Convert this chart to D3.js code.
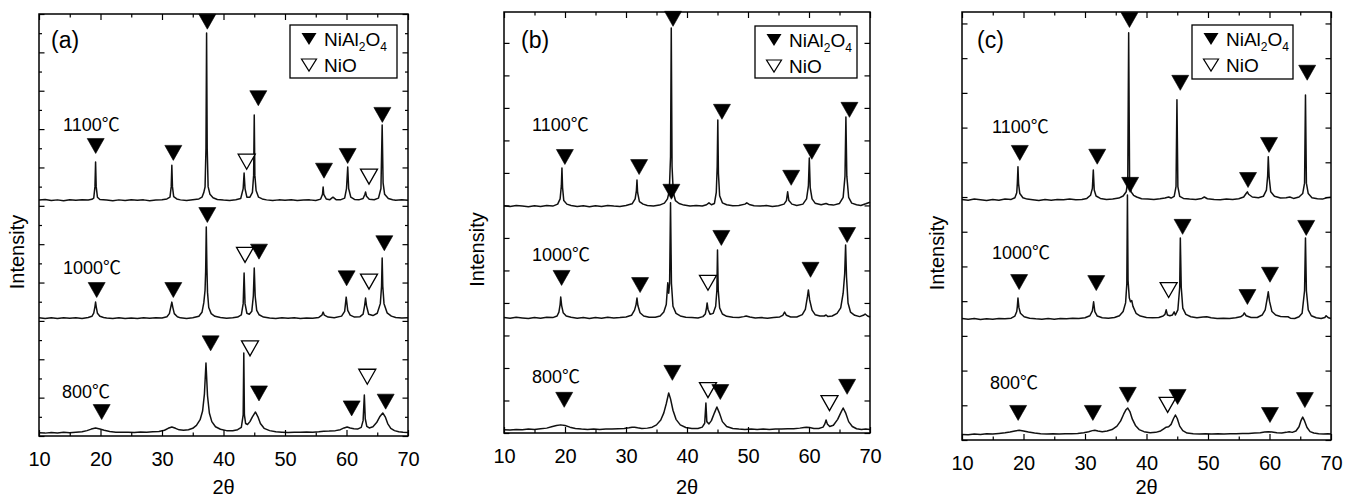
<!DOCTYPE html>
<html><head><meta charset="utf-8">
<script src="https://cdn.jsdelivr.net/npm/d3@7"></script>
<style>
html,body{margin:0;padding:0;background:#fff;}
svg{display:block;}
text{font-family:"Liberation Sans",Arial,"Noto Sans CJK SC",sans-serif;fill:#000;}
</style></head><body>
<svg id="chart" width="1358" height="498"></svg>
<script>
// ---------- data ----------
const xTicksMajor = [10,20,30,40,50,60,70];
const xTicksMinor = [15,25,35,45,55,65];
const tempLabels = ["1100℃","1000℃","800℃"];
const panelTags = ["(a)","(b)","(c)"];
const xLabel = "2θ";
const yLabel = "Intensity";
const yDomainA = [0,22];
const yDomainB = [0,12.95];
const yDomainC = [0,12.33];
const yTicksA = [0,1,2,3,4,5,6,7,8,9,10,11,12,13,14,15,16,17,18,19,20,21,22];
const yTicksB = [0,1,2,3,4,5,6,7,8,9,10,11,12];
const yTicksC = [0,1,2,3,4,5,6,7,8,9,10,11,12];

// panel (a) patterns [2theta, intensity]
const a1100 = [[10,12.30],[11,12.33],[12,12.28],[13,12.31],[14,12.27],[15,12.32],[16,12.29],[17,12.31],[18,12.30],[18.6,12.34],[18.9,12.40],[19.1,13.0],[19.2,14.28],[19.3,13.0],[19.5,12.45],[19.9,12.33],[21,12.30],[22,12.27],[23,12.31],[24,12.28],[25,12.32],[26,12.29],[27,12.31],[28,12.27],[29,12.30],[30,12.32],[30.8,12.36],[31.3,12.45],[31.5,13.0],[31.6,14.12],[31.7,13.0],[31.9,12.48],[32.4,12.36],[33,12.31],[34,12.28],[35,12.32],[36,12.36],[36.5,12.45],[36.8,12.7],[37.0,12.98],[37.15,15.0],[37.25,21.01],[37.35,15.0],[37.5,13.0],[37.8,12.6],[38.3,12.42],[39,12.33],[40,12.30],[41,12.28],[42,12.32],[42.8,12.38],[43.2,12.9],[43.35,13.71],[43.5,12.9],[43.8,12.45],[44.3,12.45],[44.7,12.7],[44.9,13.6],[45.0,16.73],[45.1,13.6],[45.3,12.8],[45.7,12.45],[46.3,12.36],[47,12.31],[48,12.28],[49,12.31],[50,12.29],[51,12.32],[52,12.28],[53,12.30],[54,12.31],[55,12.28],[55.8,12.35],[56.1,12.6],[56.2,12.98],[56.3,12.6],[56.7,12.36],[57.3,12.32],[57.8,12.45],[58.3,12.32],[59,12.31],[59.7,12.4],[60.0,12.9],[60.2,14.02],[60.35,12.9],[60.7,12.45],[61.3,12.33],[62,12.31],[62.7,12.38],[63.0,12.6],[63.1,12.72],[63.25,12.5],[63.7,12.34],[64.5,12.32],[65.2,12.4],[65.6,12.9],[65.8,16.21],[65.95,13.2],[66.2,12.6],[66.8,12.38],[67.5,12.32],[68,12.29],[69,12.31],[70,12.29]];
const a1000 = [[10,6.17],[11,6.13],[12,6.16],[13,6.12],[14,6.17],[15,6.14],[16,6.16],[17,6.13],[18,6.18],[18.6,6.24],[18.9,6.4],[19.1,6.75],[19.2,6.98],[19.3,6.75],[19.5,6.4],[19.9,6.24],[20.5,6.18],[21,6.15],[22,6.12],[23,6.16],[24,6.13],[25,6.15],[26,6.12],[27,6.16],[28,6.14],[29,6.17],[30,6.15],[30.8,6.22],[31.2,6.38],[31.45,6.75],[31.6,6.98],[31.75,6.72],[32.0,6.38],[32.5,6.22],[33,6.16],[34,6.13],[35,6.16],[36,6.24],[36.5,6.45],[36.8,6.95],[37.0,7.6],[37.1,8.6],[37.2,10.89],[37.3,8.8],[37.4,7.5],[37.6,6.7],[38.0,6.38],[38.6,6.24],[39.5,6.18],[40.5,6.14],[41.5,6.16],[42.3,6.2],[42.9,6.32],[43.2,6.9],[43.35,8.5],[43.5,6.9],[43.8,6.4],[44.2,6.35],[44.6,6.5],[44.85,7.3],[45.0,8.76],[45.15,7.3],[45.4,6.55],[45.8,6.32],[46.5,6.2],[47.5,6.15],[48.5,6.13],[49.5,6.16],[50.5,6.14],[51.5,6.17],[52.5,6.13],[53.5,6.15],[54.5,6.14],[55.5,6.18],[56.0,6.3],[56.2,6.46],[56.4,6.3],[57,6.2],[58,6.17],[59.2,6.25],[59.7,6.5],[59.95,7.24],[60.2,6.55],[60.6,6.3],[61.3,6.2],[62.2,6.22],[62.7,6.35],[62.95,6.8],[63.1,7.19],[63.25,6.8],[63.6,6.35],[64.3,6.28],[65.0,6.4],[65.5,6.9],[65.7,7.8],[65.8,9.28],[65.9,7.8],[66.1,6.9],[66.6,6.42],[67.3,6.25],[68,6.18],[69,6.15],[70,6.17]];
const a800 = [[10,0.17],[11,0.15],[12,0.18],[13,0.16],[14,0.19],[15,0.17],[16,0.2],[17,0.22],[17.8,0.28],[18.5,0.36],[19.2,0.42],[19.9,0.36],[20.6,0.3],[21.5,0.24],[22.5,0.2],[23.5,0.19],[24.5,0.2],[25.5,0.18],[26.5,0.21],[27.5,0.19],[28.5,0.22],[29.5,0.24],[30.4,0.3],[31.0,0.4],[31.6,0.47],[32.2,0.4],[32.8,0.32],[33.5,0.3],[34.3,0.33],[35.0,0.4],[35.6,0.55],[36.2,0.85],[36.6,1.3],[36.9,2.2],[37.15,3.81],[37.4,2.1],[37.7,1.2],[38.1,0.75],[38.7,0.48],[39.5,0.35],[40.5,0.28],[41.5,0.27],[42.3,0.33],[42.9,0.45],[43.2,1.1],[43.3,4.33],[43.4,1.1],[43.6,0.65],[43.9,0.6],[44.3,0.75],[44.7,1.0],[45.2,1.25],[45.6,1.0],[46.0,0.65],[46.6,0.4],[47.5,0.28],[48.5,0.22],[49.5,0.2],[50.5,0.18],[51.5,0.2],[52.5,0.19],[53.5,0.21],[54.5,0.2],[55.5,0.22],[56.3,0.25],[57.2,0.26],[58.2,0.28],[59.0,0.33],[59.6,0.42],[60.1,0.47],[60.6,0.42],[61.2,0.38],[61.8,0.36],[62.4,0.45],[62.7,0.8],[62.9,2.14],[63.05,0.9],[63.3,0.5],[63.7,0.42],[64.3,0.48],[64.9,0.7],[65.4,1.0],[65.9,1.2],[66.3,1.0],[66.7,0.65],[67.2,0.4],[67.8,0.28],[68.5,0.22],[69.2,0.19],[70,0.18]];

// panel (b)
const b1100 = [[10,6.99],[11,6.97],[12,7.0],[13,6.98],[14,6.96],[15,6.99],[16,6.97],[17,7.0],[18,6.98],[18.8,7.04],[19.2,7.2],[19.4,7.6],[19.5,8.15],[19.6,7.55],[19.8,7.15],[20.3,7.04],[21,7.0],[22,6.97],[23,6.99],[24,6.96],[25,6.99],[26,6.97],[27,7.0],[28,6.98],[29,6.97],[30,7.0],[31,7.05],[31.5,7.2],[31.7,7.45],[31.8,7.78],[31.9,7.4],[32.2,7.12],[32.8,7.04],[33.5,7.0],[34.5,6.98],[35.5,7.01],[36.3,7.07],[36.8,7.2],[37.1,7.45],[37.3,8.5],[37.42,12.46],[37.55,8.2],[37.75,7.4],[38.1,7.15],[38.7,7.06],[39.5,7.01],[40.5,6.98],[41.5,7.0],[42.5,6.98],[43.2,7.02],[43.6,7.08],[44.0,7.02],[44.5,7.06],[44.8,7.4],[44.95,8.2],[45.05,9.63],[45.15,8.0],[45.35,7.3],[45.8,7.08],[46.5,7.02],[47.5,6.99],[48.5,7.0],[49.5,7.04],[49.8,7.08],[50.2,7.03],[51,6.99],[52,6.98],[53,7.0],[54,6.97],[55,6.99],[55.9,7.04],[56.3,7.15],[56.5,7.42],[56.7,7.15],[57.2,7.04],[58,7.0],[59,7.04],[59.6,7.2],[59.9,7.6],[60.05,8.46],[60.2,7.55],[60.5,7.2],[61,7.07],[62,7.02],[62.8,7.06],[63.2,7.03],[64,7.01],[65,7.06],[65.6,7.25],[65.9,7.9],[66.05,9.72],[66.2,7.9],[66.5,7.25],[67,7.07],[67.8,7.02],[68.5,7.0],[69.3,7.05],[70,7.1]];
const b1000 = [[10,3.55],[11,3.53],[12,3.56],[13,3.54],[14,3.52],[15,3.55],[16,3.53],[17,3.56],[18,3.55],[18.7,3.6],[19.0,3.72],[19.2,3.95],[19.3,4.18],[19.45,3.92],[19.7,3.7],[20.2,3.6],[21,3.56],[22,3.53],[23,3.55],[24,3.52],[25,3.55],[26,3.53],[27,3.56],[28,3.54],[29,3.55],[30,3.57],[30.9,3.62],[31.4,3.78],[31.65,3.95],[31.8,4.15],[31.95,3.92],[32.3,3.7],[32.9,3.6],[33.8,3.56],[34.8,3.56],[35.6,3.6],[36.2,3.72],[36.6,3.95],[36.85,4.62],[37.0,4.3],[37.15,4.6],[37.3,7.08],[37.45,4.6],[37.7,3.9],[38.2,3.68],[38.9,3.6],[39.8,3.56],[40.8,3.55],[41.8,3.54],[42.6,3.58],[43.0,3.66],[43.2,3.85],[43.3,4.0],[43.45,3.8],[43.8,3.65],[44.3,3.68],[44.7,3.9],[44.9,4.4],[45.0,5.63],[45.12,4.4],[45.35,3.85],[45.8,3.66],[46.5,3.59],[47.5,3.56],[48.5,3.55],[49.3,3.58],[49.7,3.6],[50.3,3.57],[51.2,3.54],[52.2,3.55],[53.2,3.53],[54.2,3.55],[55.2,3.57],[55.7,3.62],[56.0,3.72],[56.3,3.62],[57,3.57],[58,3.57],[58.9,3.64],[59.4,3.8],[59.75,4.2],[59.9,4.4],[60.1,4.1],[60.5,3.78],[61,3.64],[61.8,3.6],[62.5,3.6],[62.8,3.63],[63.1,3.58],[63.8,3.6],[64.6,3.68],[65.2,3.85],[65.6,4.3],[65.85,4.9],[66.0,5.78],[66.15,4.8],[66.4,4.0],[66.8,3.72],[67.5,3.62],[68.3,3.58],[68.9,3.62],[69.2,3.66],[69.6,3.6],[70,3.57]];
const b800 = [[10,0.1],[11,0.09],[12,0.11],[13,0.1],[14,0.12],[15,0.11],[16,0.13],[17,0.15],[17.8,0.19],[18.6,0.23],[19.3,0.25],[20.0,0.23],[20.8,0.18],[21.7,0.14],[22.7,0.12],[23.7,0.11],[24.7,0.12],[25.7,0.11],[26.7,0.12],[27.7,0.12],[28.7,0.13],[29.7,0.14],[30.5,0.16],[31.0,0.18],[31.4,0.18],[31.9,0.16],[32.6,0.14],[33.5,0.15],[34.3,0.18],[35.0,0.25],[35.7,0.4],[36.2,0.62],[36.6,0.9],[37.0,1.23],[37.3,1.05],[37.7,0.7],[38.2,0.42],[38.9,0.25],[39.8,0.17],[40.8,0.14],[41.8,0.14],[42.5,0.18],[42.9,0.3],[43.1,0.92],[43.25,0.35],[43.6,0.28],[44.0,0.38],[44.5,0.62],[44.9,0.8],[45.3,0.62],[45.8,0.35],[46.5,0.2],[47.5,0.14],[48.5,0.12],[49.5,0.11],[50.5,0.12],[51.5,0.11],[52.5,0.12],[53.5,0.11],[54.5,0.12],[55.5,0.12],[56.5,0.13],[57.5,0.13],[58.5,0.15],[59.2,0.17],[59.6,0.18],[60.1,0.17],[60.8,0.14],[61.6,0.14],[62.3,0.18],[62.6,0.28],[62.8,0.4],[63.0,0.28],[63.4,0.2],[64.0,0.24],[64.7,0.42],[65.2,0.62],[65.6,0.77],[66.0,0.62],[66.5,0.35],[67.1,0.2],[67.8,0.13],[68.6,0.11],[69.3,0.12],[70,0.11]];

// panel (c)
const c1100 = [[10,6.93],[11,6.91],[12,6.94],[13,6.92],[14,6.9],[15,6.93],[16,6.91],[17,6.94],[18,6.93],[18.6,6.98],[18.9,7.12],[19.0,7.4],[19.1,7.87],[19.2,7.38],[19.4,7.1],[19.9,6.98],[20.6,6.94],[21.5,6.92],[22.5,6.9],[23.5,6.93],[24.5,6.91],[25.5,6.93],[26.5,6.92],[27.5,6.94],[28.5,6.92],[29.5,6.93],[30.3,6.96],[30.9,7.05],[31.2,7.25],[31.35,7.78],[31.5,7.2],[31.8,7.03],[32.5,6.96],[33.5,6.93],[34.5,6.94],[35.5,6.97],[36.2,7.03],[36.7,7.15],[36.95,7.45],[37.1,11.73],[37.25,7.45],[37.5,7.15],[37.9,7.05],[38.4,7.0],[39.2,6.95],[40.2,6.94],[41.2,6.93],[42.2,6.95],[43.0,6.97],[43.6,7.0],[44.0,6.97],[44.5,7.02],[44.8,7.3],[44.95,9.8],[45.1,7.3],[45.4,7.02],[46,6.96],[47,6.94],[48,6.93],[49,6.96],[49.4,7.0],[49.9,6.95],[51,6.93],[52,6.92],[53,6.94],[54,6.93],[55,6.95],[55.8,7.0],[56.2,7.1],[56.4,7.15],[56.6,7.08],[57.2,7.0],[58.2,6.98],[59.0,7.02],[59.5,7.2],[59.7,7.6],[59.8,8.16],[59.95,7.55],[60.2,7.15],[60.8,7.02],[61.8,6.97],[62.7,6.98],[63.3,7.0],[63.9,6.96],[64.8,7.0],[65.4,7.1],[65.7,7.4],[65.85,9.94],[66.0,7.4],[66.3,7.1],[66.9,6.98],[67.8,6.95],[68.6,6.94],[69.3,6.98],[70,6.99]];
const c1000 = [[10,3.5],[11,3.48],[12,3.5],[13,3.47],[14,3.49],[15,3.48],[16,3.5],[17,3.49],[18,3.51],[18.6,3.57],[18.9,3.7],[19.0,3.85],[19.1,4.09],[19.25,3.82],[19.5,3.65],[20.1,3.55],[21,3.51],[22,3.49],[23,3.48],[24,3.5],[25,3.48],[26,3.5],[27,3.49],[28,3.51],[29,3.5],[30,3.52],[30.8,3.58],[31.2,3.72],[31.4,3.98],[31.6,3.7],[32,3.57],[32.8,3.52],[33.8,3.51],[34.8,3.53],[35.6,3.58],[36.2,3.7],[36.6,3.95],[36.8,4.5],[36.9,7.06],[37.0,4.6],[37.2,4.1],[37.4,3.98],[37.6,4.02],[37.8,3.85],[38.3,3.65],[39,3.57],[40,3.53],[41,3.52],[42,3.53],[42.7,3.57],[43.0,3.62],[43.2,3.75],[43.4,3.6],[43.8,3.58],[44.2,3.6],[44.5,3.69],[44.7,3.6],[45.1,3.75],[45.4,4.4],[45.5,5.82],[45.65,4.4],[45.9,3.8],[46.4,3.62],[47.2,3.55],[48.2,3.52],[49.2,3.54],[49.8,3.55],[50.5,3.52],[51.5,3.5],[52.5,3.51],[53.5,3.5],[54.5,3.52],[55.3,3.55],[55.7,3.6],[55.9,3.66],[56.2,3.58],[57,3.53],[58,3.53],[58.8,3.6],[59.3,3.75],[59.65,4.1],[59.8,4.27],[60.0,4.0],[60.4,3.7],[61.0,3.6],[61.8,3.56],[62.6,3.55],[63.0,3.55],[63.4,3.51],[64.1,3.5],[64.8,3.55],[65.3,3.65],[65.7,4.3],[65.85,5.82],[66.0,4.3],[66.3,3.75],[66.8,3.58],[67.6,3.52],[68.4,3.5],[69.0,3.53],[69.2,3.58],[69.6,3.52],[70,3.5]];
const c800 = [[10,0.16],[11,0.15],[12,0.17],[13,0.16],[14,0.18],[15,0.17],[16,0.19],[17,0.21],[17.8,0.23],[18.6,0.26],[19.3,0.28],[20.0,0.26],[20.8,0.23],[21.8,0.2],[22.8,0.18],[23.8,0.17],[24.8,0.18],[25.8,0.17],[26.8,0.18],[27.8,0.18],[28.8,0.19],[29.8,0.21],[30.6,0.24],[31.2,0.27],[31.6,0.28],[32.1,0.26],[32.8,0.24],[33.6,0.26],[34.4,0.3],[35.2,0.4],[35.8,0.55],[36.3,0.75],[36.7,0.88],[36.95,0.92],[37.3,0.82],[37.7,0.6],[38.2,0.42],[38.8,0.3],[39.6,0.24],[40.6,0.21],[41.5,0.22],[42.3,0.26],[42.8,0.32],[43.2,0.37],[43.6,0.38],[44.0,0.45],[44.4,0.62],[44.7,0.72],[45.0,0.62],[45.4,0.4],[45.9,0.27],[46.6,0.2],[47.6,0.18],[48.6,0.17],[49.6,0.18],[50.6,0.17],[51.6,0.18],[52.6,0.17],[53.6,0.18],[54.6,0.18],[55.6,0.19],[56.6,0.19],[57.6,0.2],[58.5,0.21],[59.2,0.23],[59.8,0.24],[60.4,0.23],[61.2,0.21],[62.0,0.2],[62.7,0.22],[63.2,0.24],[63.7,0.22],[64.3,0.26],[64.8,0.38],[65.1,0.55],[65.4,0.66],[65.7,0.55],[66.1,0.36],[66.6,0.24],[67.2,0.2],[68,0.18],[68.8,0.17],[69.5,0.18],[70,0.17]];

// peak markers: [2theta, intensity, phase] phase 0 = NiAl2O4 (filled), 1 = NiO (open)
const markersA = [[19.22,15.12,0],[31.84,14.76,0],[37.37,21.60,0],[43.77,14.30,1],[45.66,17.61,0],[56.34,13.83,0],[60.19,14.60,0],[63.66,13.52,1],[65.83,16.74,0],
  [19.38,7.61,0],[31.84,7.61,0],[37.37,11.52,0],[43.50,9.44,1],[45.77,9.61,0],[60.02,8.22,0],[63.66,8.05,1],[66.15,10.05,0],
  [20.19,1.25,0],[37.91,4.83,0],[44.31,4.57,1],[45.77,2.22,0],[60.84,1.44,0],[63.38,3.09,1],[66.37,1.79,0]];
const markersB = [[19.98,8.49,0],[32.15,8.18,0],[37.71,12.74,0],[45.73,9.88,0],[57.08,7.85,0],[60.46,8.65,0],[66.63,9.94,0],
  [19.44,4.77,0],[32.31,4.55,0],[37.44,7.42,0],[43.44,4.62,1],[45.63,6.0,0],[60.25,5.02,0],[66.25,6.09,0],
  [19.87,1.02,0],[37.6,1.85,0],[43.44,1.32,1],[45.46,1.26,0],[63.36,0.92,1],[66.25,1.42,0]];
const markersC = [[19.4,8.27,0],[31.99,8.16,0],[37.23,12.1,0],[45.49,10.29,0],[56.51,7.49,0],[59.92,8.50,0],[66.13,10.58,0],
  [19.29,4.55,0],[31.83,4.52,0],[37.34,7.35,0],[43.6,4.32,1],[45.87,6.14,0],[56.41,4.12,0],[60.08,4.76,0],[65.97,6.11,0],
  [19.13,0.78,0],[31.28,0.78,0],[36.96,1.30,0],[43.44,1.01,1],[45.06,1.24,0],[60.08,0.72,0],[65.75,1.15,0]];

// ---------- layout ----------
const panels = [
  {tag:panelTags[0], curves:[a1100,a1000,a800], markers:markersA, yDomain:yDomainA, yTicks:yTicksA, altMinor:true,
   x0:39, x1:408, y0:14, y1:436, legend:{x:290,y:25,w:107,h:53}, tagPos:[51,48], yLabX:17,
   temps:[[63,131],[63,274],[62,398]]},
  {tag:panelTags[1], curves:[b1100,b1000,b800], markers:markersB, yDomain:yDomainB, yTicks:yTicksB, altMinor:false,
   x0:504, x1:870, y0:12, y1:433, legend:{x:755,y:26,w:102,h:52}, tagPos:[521,48], yLabX:477,
   temps:[[532,131],[532,261],[532,383]]},
  {tag:panelTags[2], curves:[c1100,c1000,c800], markers:markersC, yDomain:yDomainC, yTicks:yTicksC, altMinor:false,
   x0:962, x1:1331, y0:12, y1:440, legend:{x:1192,y:25,w:101,h:54}, tagPos:[977,48], yLabX:937,
   temps:[[992,133],[992,259],[990,389]]}
];

const svg = d3.select("#chart");
const tri = (w,h) => `M${-w},${-h/2}L${w},${-h/2}L0,${h/2}Z`;

panels.forEach(p => {
  const x = d3.scaleLinear().domain([10,70]).range([p.x0,p.x1]);
  const y = d3.scaleLinear().domain(p.yDomain).range([p.y1,p.y0]);
  const g = svg.append("g");

  // curves
  const line = d3.line().x(d=>x(d[0])).y(d=>y(d[1]));
  p.curves.forEach(c => {
    g.append("path").datum(c).attr("d",line)
      .attr("fill","none").attr("stroke","#111").attr("stroke-width",1.5).attr("stroke-linejoin","round");
  });

  // markers
  g.selectAll("path.mk").data(p.markers).join("path").attr("class","mk")
    .attr("d", tri(8.5,15))
    .attr("transform", d=>`translate(${x(d[0])},${y(d[1])})`)
    .attr("fill", d=> d[2]===0 ? "#000" : "#fff")
    .attr("stroke","#000").attr("stroke-width", d=> d[2]===0 ? 0.6 : 1.3);

  // axes (ticks inward)
  const mkAxis = (gen, tr) => {
    const a = g.append("g").attr("transform",tr).call(gen);
    a.select(".domain").remove();
    a.selectAll("line").attr("stroke","#000").attr("stroke-width",1.2);
    return a;
  };
  const bottom = mkAxis(d3.axisBottom(x).tickValues(xTicksMajor).tickSize(-6).tickPadding(16).tickFormat(d3.format("d")), `translate(0,${p.y1})`);
  bottom.selectAll("text").attr("font-size",20).attr("font-family",'"Liberation Sans",Arial,sans-serif');
  mkAxis(d3.axisBottom(x).tickValues(xTicksMinor).tickSize(-3.5).tickFormat(""), `translate(0,${p.y1})`);
  mkAxis(d3.axisTop(x).tickValues(xTicksMajor).tickSize(-6).tickFormat(""), `translate(0,${p.y0})`);
  mkAxis(d3.axisTop(x).tickValues(xTicksMinor).tickSize(-3.5).tickFormat(""), `translate(0,${p.y0})`);
  const majY = p.altMinor ? p.yTicks.filter(v=>v%2===0) : p.yTicks;
  const minY = p.altMinor ? p.yTicks.filter(v=>v%2===1) : [];
  mkAxis(d3.axisLeft(y).tickValues(majY).tickSize(-5.5).tickFormat(""), `translate(${p.x0},0)`);
  mkAxis(d3.axisRight(y).tickValues(majY).tickSize(-5.5).tickFormat(""), `translate(${p.x1},0)`);
  if (minY.length) {
    mkAxis(d3.axisLeft(y).tickValues(minY).tickSize(-3).tickFormat(""), `translate(${p.x0},0)`);
    mkAxis(d3.axisRight(y).tickValues(minY).tickSize(-3).tickFormat(""), `translate(${p.x1},0)`);
  }

  // frame
  g.append("rect").attr("x",p.x0).attr("y",p.y0).attr("width",p.x1-p.x0).attr("height",p.y1-p.y0)
    .attr("fill","none").attr("stroke","#000").attr("stroke-width",1.5);

  // panel tag
  g.append("text").attr("x",p.tagPos[0]).attr("y",p.tagPos[1]).attr("font-size",23).text(p.tag);

  // temperature labels
  p.temps.forEach((t,i) => {
    g.append("text").attr("x",t[0]).attr("y",t[1]).attr("font-size",18).text(tempLabels[i]);
  });

  // legend
  const L = p.legend;
  const lg = g.append("g");
  lg.append("rect").attr("x",L.x).attr("y",L.y).attr("width",L.w).attr("height",L.h)
    .attr("fill","#fff").attr("stroke","#000").attr("stroke-width",1.3);
  lg.append("path").attr("d",tri(7.5,12)).attr("transform",`translate(${L.x+19},${L.y+14})`).attr("fill","#000");
  lg.append("path").attr("d",tri(7.5,12)).attr("transform",`translate(${L.x+19},${L.y+40})`)
    .attr("fill","#fff").attr("stroke","#000").attr("stroke-width",1.2);
  const t1 = lg.append("text").attr("x",L.x+34).attr("y",L.y+21).attr("font-size",19);
  t1.append("tspan").text("NiAl");
  t1.append("tspan").attr("font-size",12).attr("dy",5).text("2");
  t1.append("tspan").attr("dy",-5).text("O");
  t1.append("tspan").attr("font-size",12).attr("dy",5).text("4");
  lg.append("text").attr("x",L.x+34).attr("y",L.y+47).attr("font-size",19).text("NiO");

  // axis titles
  g.append("text").attr("x",(p.x0+p.x1)/2).attr("y",494).attr("text-anchor","middle").attr("font-size",20).text(xLabel);
  g.append("text").attr("transform",`translate(${p.yLabX+7},${(p.y0+p.y1)/2+27}) rotate(-90)`)
    .attr("text-anchor","middle").attr("font-size",20).text(yLabel);
});
</script>
</body></html>
